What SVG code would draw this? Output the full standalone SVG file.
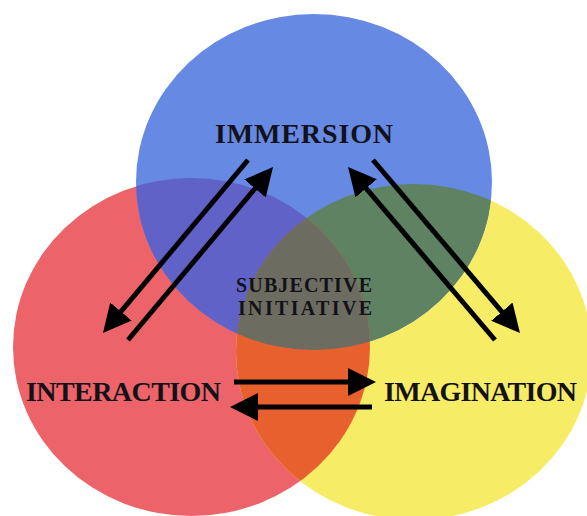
<svg xmlns="http://www.w3.org/2000/svg" width="587" height="516" viewBox="0 0 587 516">
<style>
  .lbl{font-family:"Liberation Serif","Times New Roman",serif;font-weight:bold;fill:#121218}
  .big{font-size:28px}
  .small{font-size:20px}
  .conn{stroke:#000;stroke-width:5;fill:none;marker-end:url(#head)}
</style>
<defs>
  <marker id="head" markerUnits="userSpaceOnUse" markerWidth="28" markerHeight="30" viewBox="0 0 28 30" refX="18" refY="15" orient="auto">
    <path d="M0,1 L28,15 L0,29 Z" fill="#000"/>
  </marker>
  <ellipse id="eBlue" cx="314" cy="182" rx="178" ry="168"/>
  <ellipse id="eRed" cx="191.5" cy="347" rx="178.5" ry="169"/>
  <ellipse id="eYellow" cx="414" cy="352" rx="178" ry="168"/>
  <clipPath id="cBlue"><use href="#eBlue"/></clipPath>
  <clipPath id="cRed"><use href="#eRed"/></clipPath>
  <clipPath id="cYellow"><use href="#eYellow"/></clipPath>
</defs>
<rect width="587" height="516" fill="#ffffff"/>
<g id="circles">
  <use href="#eRed" fill="#EC6369"/>
  <use href="#eYellow" fill="#F7EC66"/>
  <use href="#eBlue" fill="#6689E4"/>
  <g clip-path="url(#cBlue)"><use href="#eRed" fill="#6062C8"/></g>
  <g clip-path="url(#cBlue)"><use href="#eYellow" fill="#5F8262"/></g>
  <g clip-path="url(#cRed)"><use href="#eYellow" fill="#E8602E"/></g>
  <g clip-path="url(#cRed)"><g clip-path="url(#cBlue)"><use href="#eYellow" fill="#6C6C60"/></g></g>
</g>
<g id="connectors">
  <line class="conn" x1="248" y1="160" x2="109.4" y2="325.3"/>
  <line class="conn" x1="128" y1="340" x2="266.6" y2="174.7"/>
  <line class="conn" x1="495" y1="340" x2="354.5" y2="174.6"/>
  <line class="conn" x1="373" y1="160" x2="513.5" y2="325.4"/>
  <line class="conn" x1="234" y1="382" x2="366" y2="382"/>
  <line class="conn" x1="372" y1="407" x2="240" y2="407"/>
</g>
<g id="immersion"><text class="lbl big" x="215" y="143" textLength="178">IMMERSION</text></g>
<g id="interaction"><text class="lbl big" x="26" y="401" textLength="195">INTERACTION</text></g>
<g id="imagination"><text class="lbl big" x="384" y="401" textLength="193">IMAGINATION</text></g>
<g id="subjective-initiative">
  <text class="lbl small" x="236" y="292" textLength="136">SUBJECTIVE</text>
  <text class="lbl small" x="238" y="315" textLength="134">INITIATIVE</text>
</g>
</svg>
